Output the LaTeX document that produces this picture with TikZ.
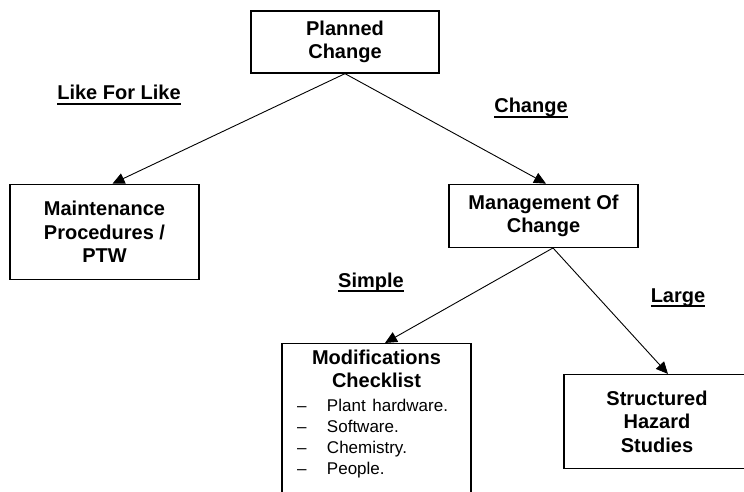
\documentclass[tikz,border=0pt]{standalone}
\usepackage{fontspec}
\setmainfont{Liberation Sans}
\usetikzlibrary{positioning,arrows.meta}
\definecolor{colortext}{RGB}{0,0,0}
\newcommand{\ulword}[1]{\setbox0=\hbox{#1}\rlap{\copy0}\raisebox{-5pt}[0pt][0pt]{\rule{\wd0}{1.8pt}}}

\begin{document}
\begin{tikzpicture}[
    x=1pt, y=-1pt,
    box/.style={draw=colortext,line width=1.3pt,text=colortext,font={\fontsize{20}{23.5}\selectfont\bfseries},align=center,minimum width=189pt,inner sep=4pt},
    lbl/.style={text=colortext,font={\fontsize{20}{24}\selectfont\bfseries},anchor=base,inner sep=0pt},
    link/.style={draw=colortext,line width=0.9pt,-{Triangle[length=12pt,width=11pt]}},
]
    \useasboundingbox (0,0) rectangle (744,492);
    \clip (0,0) rectangle (744,492);

    % Top box
    \node[box,minimum width=188pt,minimum height=62pt] (planned) at (345,42) {Planned\\Change};

    % Second level
    \node[box,minimum height=95pt,below=110pt of planned,xshift=-240.5pt] (maint) {Maintenance\\Procedures /\\PTW};
    \node[box,minimum height=63pt,below=110pt of planned,xshift=198.5pt] (mgmt) {Management Of\\Change};

    % Third level
    \node[box,text width=159pt,inner xsep=15pt,inner ysep=6pt,below=95pt of mgmt,xshift=-167pt] (modif)
        {Modifications\\Checklist\\
        {\fontsize{17}{21}\mdseries\selectfont\begin{tabular}[t]{@{}p{30pt}@{}p{129pt}@{}}
        --&Plant hardware.\\
        --&Software.\\
        --&Chemistry.\\
        --&People.\\
        &\\
        \end{tabular}}};
    \node[box,minimum width=186pt,minimum height=94pt,below=126pt of mgmt,xshift=113.5pt] (struct) {Structured\\Hazard\\Studies};

    % Arrows
    \draw[link] (planned.south) -- ([xshift=8pt]maint.north);
    \draw[link] (planned.south) -- ([xshift=2.5pt]mgmt.north);
    \draw[link] ([xshift=9.5pt]mgmt.south) -- ([xshift=8.5pt]modif.north);
    \draw[link] ([xshift=9.5pt]mgmt.south) -- ([xshift=11pt]struct.north);

    % Labels
    \node[lbl] (likeforlike) at (119,100) {\ulword{Like For Like}};
    \node[lbl] (changelbl) at (531,113) {\ulword{Change}};
    \node[lbl] (simplelbl) at (371,287) {\ulword{Simple}};
    \node[lbl] (largelbl) at (678,302) {\ulword{Large}};

\end{tikzpicture}
\end{document}
